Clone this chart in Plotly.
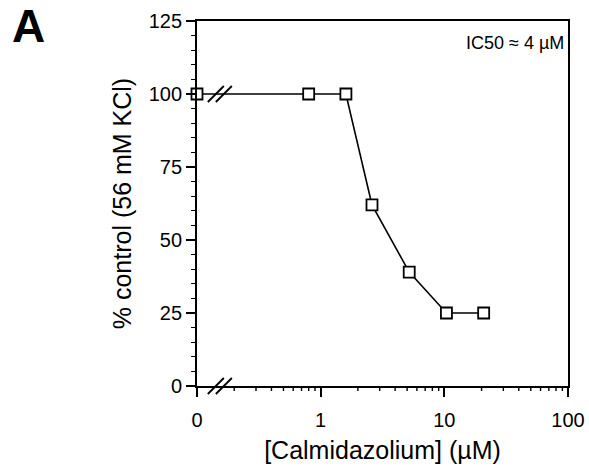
import math
import plotly.graph_objects as go

# Calmidazolium dose-response (percent of 56 mM KCl control)
conc_uM = [0, 0.8, 1.6, 2.6, 5.2, 10.4, 20.8]
pct_control = [100, 100, 100, 62, 39, 25, 25]

x_tickvals = [0.1, 1, 10, 100]
x_ticktext = ["0", "1", "10", "100"]
x_minorvals = [m * d for d in (0.1, 1, 10) for m in range(2, 10)]
y_tickvals = [0, 25, 50, 75, 100, 125]

X_RANGE = [-1, 2]   # log10 decades shown
Y_RANGE = [0, 125]

ZERO_POS = 0.1      # where the zero dose sits on the broken log axis
BREAK_AT = 0.153    # location of the "//" axis-break marks

FONT = "Liberation Sans, Arial, Helvetica, sans-serif"

W, H = 589, 469
M = dict(l=197, r=21, t=21, b=83)
plot_w = W - M["l"] - M["r"]
plot_h = H - M["t"] - M["b"]

x_plot = [ZERO_POS if c == 0 else c for c in conc_uM]

fig = go.Figure()
fig.add_trace(go.Scatter(
    x=x_plot, y=pct_control,
    mode="lines+markers",
    line=dict(color="black", width=1.6),
    marker=dict(symbol="square", size=11, color="white",
                line=dict(color="black", width=1.8)),
    cliponaxis=False,
    showlegend=False,
))

shapes = []

# short intermediate ticks under the log x axis (shape x given in data units)
for v in x_minorvals:
    shapes.append(dict(
        type="line", xref="x", yref="paper",
        x0=v, x1=v, y0=0, y1=-5 / plot_h,
        line=dict(color="black", width=1.4),
    ))

# "//" break marks on the x axis and on the data line (paper coordinates)
bx = (math.log10(BREAK_AT) - X_RANGE[0]) / (X_RANGE[1] - X_RANGE[0])
for yv in (0, pct_control[0]):
    by = (yv - Y_RANGE[0]) / (Y_RANGE[1] - Y_RANGE[0])
    for off in (-4, 4):
        shapes.append(dict(
            type="line", xref="paper", yref="paper",
            x0=bx + (off - 8) / plot_w, x1=bx + (off + 8) / plot_w,
            y0=by - 8 / plot_h, y1=by + 8 / plot_h,
            line=dict(color="black", width=1.8),
        ))

fig.update_layout(
    width=W, height=H,
    margin=M,
    paper_bgcolor="white", plot_bgcolor="white",
    font=dict(family=FONT, color="black", size=20),
    shapes=shapes,
    xaxis=dict(
        type="log", range=X_RANGE, automargin=False,
        tickmode="array", tickvals=x_tickvals, ticktext=x_ticktext,
        ticks="outside", ticklen=9, tickwidth=1.8, tickcolor="black",
        ticklabelstandoff=6,
        showline=True, linecolor="black", linewidth=1.8, mirror=True,
        showgrid=False, zeroline=False,
        tickfont=dict(size=20),
        title=dict(text="[Calmidazolium] (µM)", font=dict(size=25), standoff=12),
    ),
    yaxis=dict(
        range=Y_RANGE, automargin=False,
        tickvals=y_tickvals,
        ticks="outside", ticklen=9, tickwidth=1.8, tickcolor="black",
        minor=dict(dtick=5, ticks="outside", ticklen=4, tickwidth=1.4,
                   tickcolor="black", showgrid=False),
        showline=True, linecolor="black", linewidth=1.8, mirror=True,
        showgrid=False, zeroline=False,
        tickfont=dict(size=20),
        title=dict(text="% control (56 mM KCl)", font=dict(size=25), standoff=10),
    ),
    annotations=[
        dict(text="<b>A</b>", xref="paper", yref="paper",
             x=-0.455, y=0.986, xanchor="center", yanchor="middle",
             showarrow=False, font=dict(size=46, family=FONT)),
        dict(text="IC50 ≈ 4 µM", xref="paper", yref="paper",
             x=0.995, y=0.94, xanchor="right", yanchor="middle",
             showarrow=False, font=dict(size=18, family=FONT)),
    ],
)

fig.write_html("out.html")
